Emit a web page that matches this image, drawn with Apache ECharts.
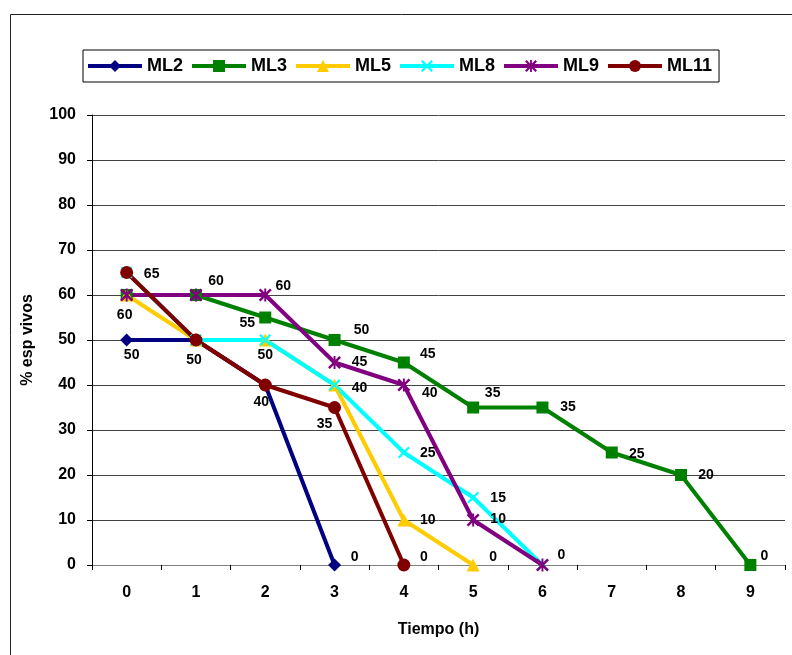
<!DOCTYPE html>
<html>
<head>
<meta charset="utf-8">
<script src="https://cdn.jsdelivr.net/npm/echarts@6/dist/echarts.min.js"></script>
<style>
html,body{margin:0;padding:0;background:#fff;}
#chart{width:792px;height:655px;}
</style>
</head>
<body>
<div id="chart"></div>
<script>
// ---- data ----
const categories = ['0','1','2','3','4','5','6','7','8','9'];
const seriesNames = ['ML2','ML3','ML5','ML8','ML9','ML11'];
const ml2  = [50, 50, 40, 0];
const ml3  = [60, 60, 55, 50, 45, 35, 35, 25, 20, 0];
const ml5  = [60, 50, 50, 40, 10, 0];
const ml8  = [65, 50, 50, 40, 25, 15, 0];
const ml9  = [60, 60, 60, 45, 40, 10, 0];
const ml11 = [65, 50, 40, 35, 0];
const yTicks = {min: 0, max: 100, interval: 10};

// ---- label placement (offset of label centre from the point, px) ----
const labelOffsets = {
  ML2:  [[5,15], null, null, [20,-7.5]],
  ML3:  [[-2,20],[20,-14],[-18,6],[27,-9.5],[24,-8.5],[19.5,-14.5],[25.5,0],[25,1.5],[25,0],[14,-8.5]],
  ML5:  [null, null, null, null, [24,0], [20,-7.5]],
  ML8:  [null, null, [0,15], [25,3.5], [24,0.5], [25,1], null],
  ML9:  [null, null, [18,-9], [25,0], [26,8.5], [25,-1], [19,-10]],
  ML11: [[25,2], [-2,20], [-4,17], [-10,17], [20,-7.5]]
};

const X_PATH = 'path://M0,1.6 L1.6,0 L6,4.4 L10.4,0 L12,1.6 L7.6,6 L12,10.4 L10.4,12 L6,7.6 L1.6,12 L0,10.4 L4.4,6 Z';
const AST_PATH = 'path://M0,1.6 L1.6,0 L6,4.4 L10.4,0 L12,1.6 L7.6,6 L12,10.4 L10.4,12 L6,7.6 L1.6,12 L0,10.4 L4.4,6 Z M5.1,0 L6.9,0 L6.9,12 L5.1,12 Z';

const styles = {
  ML2:  {color:'#000080', symbol:'diamond',  size:13},
  ML3:  {color:'#008000', symbol:'rect',     size:12},
  ML5:  {color:'#FFCC00', symbol:'triangle', size:13},
  ML8:  {color:'#00FFFF', symbol:X_PATH,     size:12},
  ML9:  {color:'#800080', symbol:AST_PATH,   size:13},
  ML11: {color:'#800000', symbol:'circle',   size:13}
};
const values = {ML2: ml2, ML3: ml3, ML5: ml5, ML8: ml8, ML9: ml9, ML11: ml11};

const FONT = '"Liberation Sans", Arial, sans-serif';

function buildSeries(name){
  const st = styles[name];
  const offs = labelOffsets[name];
  return {
    name: name,
    type: 'line',
    clip: false,
    symbol: st.symbol,
    symbolSize: st.size,
    symbolKeepAspect: true,
    showAllSymbol: true,
    lineStyle: {color: st.color, width: 4},
    itemStyle: {color: st.color, borderWidth: 0},
    emphasis: {disabled: true},
    data: values[name].map((v, i) => {
      const o = offs[i];
      return {
        value: v,
        label: o ? {
          show: true, position: 'inside', offset: o,
          color: '#000', fontFamily: FONT, fontWeight: 'bold', fontSize: 14,
          textBorderWidth: 0, formatter: '{c}'
        } : {show: false}
      };
    })
  };
}

const chart = echarts.init(document.getElementById('chart'), null, {renderer: 'canvas'});
chart.setOption({
  animation: false,
  backgroundColor: '#fff',
  graphic: [{
    type: 'rect', silent: true, z: -10,
    shape: {x: 10.5, y: 14.5, width: 800, height: 700},
    style: {fill: 'none', stroke: '#222', lineWidth: 1}
  }],
  legend: {
    left: 83, top: 50,
    padding: [7, 7, 7, 3],
    borderColor: '#000', borderWidth: 1,
    itemWidth: 54, itemHeight: 15, itemGap: 7,
    lineStyle: {width: 4},
    textStyle: {fontFamily: FONT, fontWeight: 'bold', fontSize: 18, color: '#000'},
    data: seriesNames
  },
  grid: {left: 92, right: 7, top: 115, bottom: 90, containLabel: false},
  xAxis: {
    type: 'category',
    data: categories,
    boundaryGap: true,
    name: 'Tiempo (h)',
    nameLocation: 'middle',
    nameGap: 57,
    nameTextStyle: {fontFamily: FONT, fontWeight: 'bold', fontSize: 16, color: '#000'},
    axisLine: {lineStyle: {color: '#808080', width: 1}},
    axisTick: {show: true, length: 5, lineStyle: {color: '#000'}},
    axisLabel: {margin: 20, fontFamily: FONT, fontWeight: 'bold', fontSize: 16, color: '#000'},
    splitLine: {show: false}
  },
  yAxis: {
    type: 'value',
    min: yTicks.min, max: yTicks.max, interval: yTicks.interval,
    name: '% esp vivos',
    nameLocation: 'middle',
    nameGap: 56,
    nameTextStyle: {fontFamily: FONT, fontWeight: 'bold', fontSize: 16, color: '#000'},
    axisLine: {show: true, lineStyle: {color: '#000', width: 1}},
    axisTick: {show: true, length: 5, lineStyle: {color: '#000'}},
    axisLabel: {margin: 16, fontFamily: FONT, fontWeight: 'bold', fontSize: 16, color: '#000'},
    splitLine: {show: true, lineStyle: {color: '#444', width: 1}}
  },
  series: seriesNames.map(buildSeries)
});
</script>
</body>
</html>
